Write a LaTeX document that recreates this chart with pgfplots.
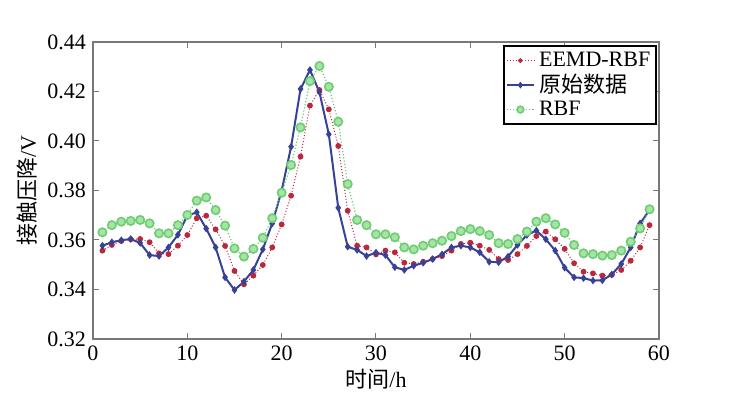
\documentclass[border=0pt]{standalone}
\usepackage{pgfplots}
\pgfplotsset{compat=1.18}
\usepackage{fontspec}
\setmainfont{Liberation Serif}
\newfontfamily\serif{Liberation Serif}
\newfontfamily\cjk{Noto Sans CJK SC}
\definecolor{cred}{RGB}{185,40,60}
\definecolor{cblue}{RGB}{55,65,150}
\definecolor{cgreen}{RGB}{110,205,115}
\definecolor{cgreenf}{RGB}{165,228,165}
\definecolor{axgray}{RGB}{120,120,120}
\begin{document}
\begin{tikzpicture}
\useasboundingbox (-46.5pt,-28pt) rectangle (331.5pt,169.5pt);
\begin{axis}[
  scale only axis,
  width=283pt, height=148.5pt,
  xmin=0, xmax=60, ymin=0.32, ymax=0.44,
  xtick={0,10,...,60},
  ytick={0.32,0.34,...,0.44},
  yticklabel style={/pgf/number format/.cd,fixed,fixed zerofill,precision=2},
  /pgf/number format/assume math mode=true,
  tick label style={font=\serif\fontsize{11}{12}\selectfont},
  axis line style={axgray, line width=0.6pt},
  tick style={axgray, line width=0.5pt},
  major tick length=3pt,
  tick align=inside,
  xlabel={{\cjk 时间}{\serif /h}},
  ylabel={{\cjk 接触压降}{\serif /V}},
  label style={font=\fontsize{11}{13}\selectfont},
  xlabel style={yshift=3pt},
  ylabel style={yshift=-2pt},
  legend style={at={(0.997,0.99)}, anchor=north east, draw=black, line width=1pt,
    font=\serif\fontsize{11}{12}\selectfont, inner sep=1pt, row sep=-1.5pt},
  legend cell align=left,
  legend image post style={scale=0.8},
]
\addplot[cred, densely dotted, line width=0.5pt, mark=*, mark size=1.2pt, mark options={solid, fill=cred, draw=cred}] coordinates {
(1,0.3557)(2,0.3580)(3,0.3596)(4,0.3603)(5,0.3604)(6,0.3591)(7,0.3546)(8,0.3543)(9,0.3577)(10,0.3620)
(11,0.3688)(12,0.3698)(13,0.3643)(14,0.3576)(15,0.3475)(16,0.3421)(17,0.3456)(18,0.3499)(19,0.3570)(20,0.3663)
(21,0.3779)(22,0.3937)(23,0.4143)(24,0.4206)(25,0.4128)(26,0.3980)(27,0.3718)(28,0.3577)(29,0.3570)(30,0.3542)
(31,0.3557)(32,0.3550)(33,0.3508)(34,0.3503)(35,0.3512)(36,0.3523)(37,0.3535)(38,0.3557)(39,0.3584)(40,0.3589)
(41,0.3577)(42,0.3560)(43,0.3523)(44,0.3519)(45,0.3543)(46,0.3576)(47,0.3616)(48,0.3634)(49,0.3603)(50,0.3564)
(51,0.3506)(52,0.3472)(53,0.3465)(54,0.3456)(55,0.3459)(56,0.3479)(57,0.3516)(58,0.3570)(59,0.3660)
};
\addlegendentry{EEMD-RBF}
\addplot[cblue, solid, line width=1pt, mark=diamond*, mark size=1.1pt, mark options={fill=cblue}] coordinates {
(1,0.3577)(2,0.3591)(3,0.3599)(4,0.3604)(5,0.3588)(6,0.3539)(7,0.3535)(8,0.3570)(9,0.3621)(10,0.3698)
(11,0.3712)(12,0.3646)(13,0.3570)(14,0.3449)(15,0.3398)(16,0.3432)(17,0.3479)(18,0.3562)(19,0.3667)(20,0.3799)
(21,0.3977)(22,0.4210)(23,0.4287)(24,0.4198)(25,0.4027)(26,0.3730)(27,0.3573)(28,0.3560)(29,0.3535)(30,0.3549)
(31,0.3539)(32,0.3490)(33,0.3479)(34,0.3496)(35,0.3508)(36,0.3523)(37,0.3542)(38,0.3570)(39,0.3577)(40,0.3570)
(41,0.3550)(42,0.3512)(43,0.3510)(44,0.3533)(45,0.3580)(46,0.3620)(47,0.3638)(48,0.3603)(49,0.3557)(50,0.3488)
(51,0.3449)(52,0.3446)(53,0.3436)(54,0.3437)(55,0.3461)(56,0.3503)(57,0.3570)(58,0.3667)(59,0.3721)
};
\addlegendentry{\cjk 原始数据}
\addplot[cgreen, densely dotted, line width=0.6pt, mark=*, mark size=2.1pt, mark options={solid, line width=0.8pt, fill=cgreenf, draw=cgreen}] coordinates {
(1,0.3631)(2,0.3660)(3,0.3674)(4,0.3677)(5,0.3681)(6,0.3667)(7,0.3627)(8,0.3627)(9,0.3660)(10,0.3701)
(11,0.3759)(12,0.3772)(13,0.3721)(14,0.3658)(15,0.3566)(16,0.3533)(17,0.3564)(18,0.3609)(19,0.3688)(20,0.3791)
(21,0.3903)(22,0.4055)(23,0.4242)(24,0.4303)(25,0.4219)(26,0.4078)(27,0.3826)(28,0.3681)(29,0.3660)(30,0.3623)
(31,0.3623)(32,0.3611)(33,0.3570)(34,0.3562)(35,0.3577)(36,0.3587)(37,0.3597)(38,0.3616)(39,0.3636)(40,0.3644)
(41,0.3636)(42,0.3620)(43,0.3587)(44,0.3584)(45,0.3604)(46,0.3634)(47,0.3674)(48,0.3688)(49,0.3663)(50,0.3629)
(51,0.3580)(52,0.3546)(53,0.3543)(54,0.3537)(55,0.3539)(56,0.3557)(57,0.3593)(58,0.3647)(59,0.3724)
};
\addlegendentry{RBF}
\end{axis}
\end{tikzpicture}
\end{document}
